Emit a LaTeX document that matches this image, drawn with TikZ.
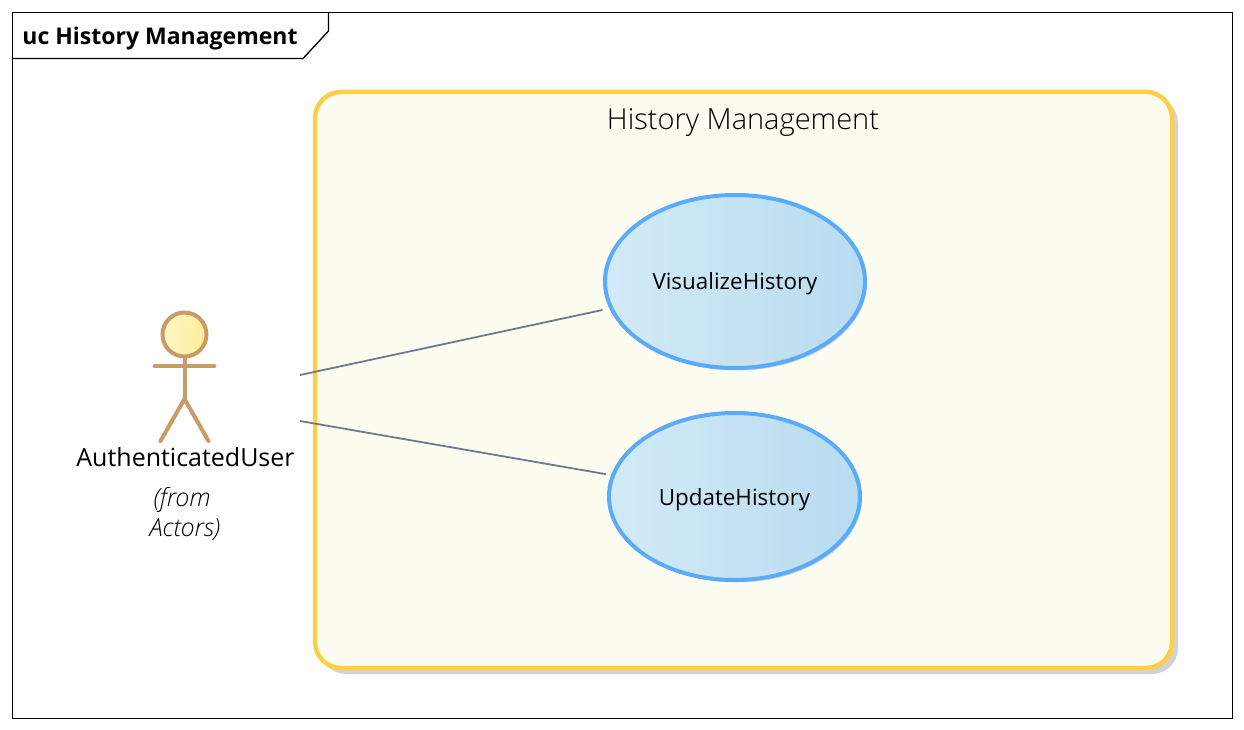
\documentclass[tikz,border=0pt]{standalone}
\usepackage{fontspec}
\setmainfont{Open Sans}
\newfontfamily\oslight{Open Sans Light}
\definecolor{framec}{HTML}{000000}
\definecolor{bndline}{HTML}{FCCF45}
\definecolor{bndfill}{HTML}{FCFCF0}
\definecolor{bndshadow}{HTML}{D3D3D3}
\definecolor{ucline}{HTML}{5BABFB}
\definecolor{ucleft}{HTML}{D3EAF7}
\definecolor{ucright}{HTML}{B8DCF0}
\definecolor{actline}{HTML}{C99C66}
\definecolor{actleft}{HTML}{FFF6C6}
\definecolor{actright}{HTML}{FFEE99}
\definecolor{conn}{HTML}{6F7A90}
\tikzset{
  x=1pt,y=-1pt,
  usecase/.style={ellipse,draw=ucline,line width=4pt,left color=ucleft,right color=ucright,inner sep=0pt,outer sep=0pt,font=\fontsize{22.4}{26}\selectfont},
  assoc/.style={draw=conn,line width=1.8pt},
  limb/.style={draw=actline,line width=4pt,line cap=round},
  txt/.style={inner sep=0pt,outer sep=0pt,text=black,anchor=center},
}
\usetikzlibrary{shapes.geometric}
\begin{document}
\begin{tikzpicture}
\useasboundingbox (0,0) rectangle (1244,730);
\fill[white] (0,0) rectangle (1244,730);
% frame
\draw[black,line width=1.3pt] (12.5,12.5) rectangle (1232.5,718.5);
\draw[black,line width=1.3pt] (12.5,58.5) -- (303,58.5) -- (328.5,31) -- (328.5,12.5);
\node[txt,font=\fontsize{23}{27}\selectfont\bfseries] (frametitle) at (160,39) {uc History Management};
% boundary
\fill[bndshadow,rounded corners=26pt] (320,97) rectangle (1178,674);
\draw[draw=bndline,fill=bndfill,line width=4.5pt,rounded corners=26pt] (315,92) rectangle (1172,668);
\node[txt,font=\oslight\fontsize{29}{34}\selectfont] (boundarytitle) at (743,122) {History Management};
% use cases
\fill[bndshadow] (737,283.5) ellipse [x radius=130,y radius=87];
\fill[bndshadow] (736.5,498.5) ellipse [x radius=125.5,y radius=84];
\node[usecase,minimum width=260pt,minimum height=173pt] (vis) at (735,281.5) {\raisebox{-7.5pt}[0pt][0pt]{VisualizeHistory}};
\node[usecase,minimum width=251pt,minimum height=167pt] (upd) at (734.5,496.5) {\raisebox{-8.5pt}[0pt][0pt]{UpdateHistory}};
% actor
\coordinate (neck) at (184.5,357);
\coordinate (hip) at (184.5,399);
\coordinate (armL) at (154.5,366);
\coordinate (armR) at (214.5,366);
\coordinate (legL) at (160.5,441);
\coordinate (legR) at (208.5,441);
\draw[limb] (neck) -- (hip);
\draw[limb] (armL) -- (armR);
\draw[limb] (legL) -- (hip) -- (legR);
\node[circle,draw=actline,line width=4pt,left color=actleft,right color=actright,minimum size=44pt,inner sep=0pt,outer sep=0pt] (head) at (184.5,334.5) {};
\node[txt,font=\fontsize{25}{29}\selectfont] (actorname) at (185.5,457) {AuthenticatedUser};
\node[txt,font=\oslight\fontsize{25}{29.5}\selectfont\itshape,align=center] (actorfrom) at (185,514) {\hspace*{-6pt}(from\\Actors)};
% connectors
\coordinate (a1) at (300,375);
\coordinate (a2) at (300,421);
\draw[assoc,shorten >=9pt] (a1) -- (vis);
\draw[assoc,shorten >=7pt] (a2) -- (upd);
\end{tikzpicture}
\end{document}
